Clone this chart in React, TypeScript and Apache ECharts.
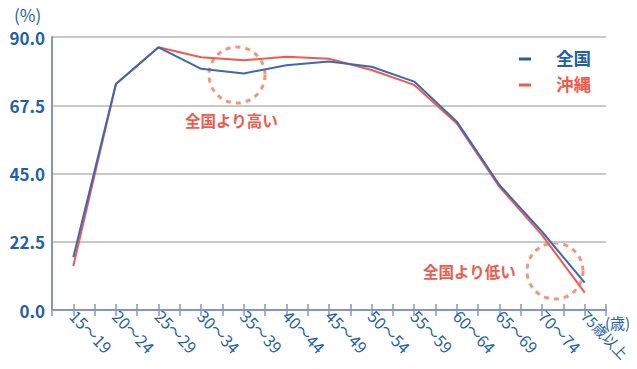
import React, { useEffect, useRef } from "react";
import * as echarts from "echarts";

const categories = ["15～19", "20～24", "25～29", "30～34", "35～39", "40～44", "45～49", "50～54", "55～59", "60～64", "65～69", "70～74", "75歳以上"];
const national = [17.4, 74.5, 86.6, 79.5, 78.0, 80.7, 81.9, 80.2, 75.3, 62.1, 41.2, 25.8, 9.0];
const okinawa = [14.5, 74.5, 86.6, 83.3, 82.3, 83.5, 82.8, 79.1, 74.2, 61.5, 40.6, 24.7, 5.7];
const yTicks = [0, 22.5, 45, 67.5, 90];

const BLUE = "#1f5fab";
const BLUE_LINE = "#3a68b6";
const RED = "#f05a4c";
const CIRCLE = "#f4957f";
const AXIS = "#8494d2";
const FONT = "'Noto Sans CJK JP', 'Noto Sans', sans-serif";

export default function App() {
  const ref = useRef<HTMLDivElement>(null);
  useEffect(() => {
    const chart = echarts.init(ref.current!, undefined, { renderer: "svg" });
    const xBase = {
      type: "value" as const,
      min: -0.5,
      max: 12.5,
      interval: 0.5,
      splitLine: { show: false },
      axisLine: { show: true, onZero: false, lineStyle: { color: AXIS, width: 2 } },
    };
    chart.setOption({
      animation: false,
      grid: { left: 52, right: 31, top: 37, bottom: 59, containLabel: false, outerBoundsMode: "none" },
      xAxis: [
        {
          ...xBase,
          axisTick: { show: true, length: 6, lineStyle: { color: AXIS, width: 1.5 } },
          axisLabel: {
            show: true,
            rotate: -46,
            color: BLUE,
            fontSize: 16,
            fontFamily: FONT,
            margin: 3,
            formatter: (v: number) => {
              if (!Number.isInteger(v)) return "";
              const t = categories[v];
              return v === categories.length - 1 ? `{s|${t}}` : t;
            },
            rich: { s: { fontSize: 14.5, fontFamily: FONT, color: BLUE } },
          },
        },
        {
          ...xBase,
          position: "bottom",
          axisTick: { show: true, inside: true, length: 6, lineStyle: { color: AXIS, width: 1.5 } },
          axisLabel: { show: false },
        },
      ],
      yAxis: {
        type: "value",
        min: 0,
        max: 90,
        interval: 22.5,
        axisLine: { show: true, onZero: false, lineStyle: { color: AXIS, width: 2 } },
        axisTick: { show: false },
        splitLine: { show: true, lineStyle: { color: "#c8c8c8", width: 2 } },
        axisLabel: {
          color: BLUE,
          fontSize: 17,
          fontWeight: "bold",
          fontFamily: FONT,
          margin: 7,
          formatter: (v: number) => (yTicks.includes(v) ? v.toFixed(1) : ""),
        },
      },
      series: [
        {
          name: "沖縄",
          type: "line",
          xAxisIndex: 0,
          data: okinawa.map((v, i) => [i, v]),
          symbol: "none",
          lineStyle: { color: RED, width: 2 },
          itemStyle: { color: RED },
        },
        {
          name: "全国",
          type: "line",
          xAxisIndex: 0,
          data: national.map((v, i) => [i, v]),
          symbol: "none",
          lineStyle: { color: BLUE_LINE, width: 2 },
          itemStyle: { color: BLUE_LINE },
        },
      ],
      graphic: [
        { type: "text", left: 14, top: 6, style: { text: "(%)", fill: BLUE, font: `17px ${FONT}` } },
        { type: "text", left: 605, top: 315, style: { text: "(歳)", fill: BLUE, font: `15px ${FONT}` } },
        { type: "line", shape: { x1: 519, y1: 59, x2: 531, y2: 59 }, style: { stroke: BLUE, lineWidth: 3 } },
        { type: "text", left: 556, top: 49, style: { text: "全国", fill: BLUE, font: `bold 17.5px ${FONT}` } },
        { type: "line", shape: { x1: 519, y1: 85, x2: 531, y2: 85 }, style: { stroke: RED, lineWidth: 3 } },
        { type: "text", left: 556, top: 75, style: { text: "沖縄", fill: RED, font: `bold 17.5px ${FONT}` } },
        { type: "circle", shape: { cx: 237, cy: 75, r: 28 }, style: { fill: "none", stroke: CIRCLE, lineWidth: 3, lineDash: [5, 5] } },
        { type: "text", left: 185, top: 112, style: { text: "全国より高い", fill: RED, font: `bold 15.5px ${FONT}` } },
        { type: "circle", shape: { cx: 555, cy: 271, r: 28 }, style: { fill: "none", stroke: CIRCLE, lineWidth: 3, lineDash: [5, 5] } },
        { type: "text", left: 423, top: 263, style: { text: "全国より低い", fill: RED, font: `bold 15.5px ${FONT}` } },
      ],
    });
    return () => chart.dispose();
  }, []);
  return <div ref={ref} style={{ width: 637, height: 369, position: "absolute", left: 0, top: 0 }} />;
}
